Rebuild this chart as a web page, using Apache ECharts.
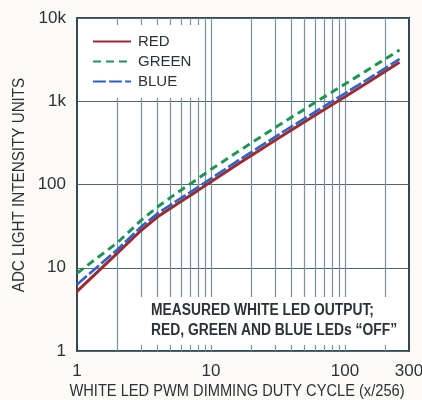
<!DOCTYPE html>
<html>
<head>
<meta charset="utf-8">
<script src="https://cdn.jsdelivr.net/npm/echarts@6/dist/echarts.min.js"></script>
<style>
  html, body { margin: 0; padding: 0; background: #fcfaf7; }
  #chart { width: 422px; height: 400px; }
</style>
</head>
<body>
<div id="chart"></div>
<script>
// PWM duty cycle steps (x/256)
const dutyCycle = [1, 2, 3, 4, 5, 6, 8, 10, 16, 20, 32, 50, 64, 100, 128, 200, 255];
// Measured ADC light intensity per colour channel
const redValues   = [5.2, 15, 28, 41, 52, 63, 85, 108, 178, 223, 362, 568, 728, 1135, 1455, 2290, 2950];
const greenValues = [8.6, 20, 37, 54, 70, 86, 118, 152, 250, 315, 515, 805, 1035, 1610, 2060, 3230, 4130];
const blueValues  = [6.3, 16.5, 31, 45, 57, 69, 93, 118, 195, 245, 398, 622, 797, 1245, 1595, 2505, 3220];
// Axis ticks
const xTickValues = [1, 10, 100, 300];
const xGridValues = [2, 3, 4, 5, 6, 7, 8, 9, 10, 20, 30, 40, 50, 60, 70, 80, 90, 100, 200];
const yTickLabels = { 1: '1', 10: '10', 100: '100', 1000: '1k', 10000: '10k' };

const FONT = '"Liberation Sans", Arial, sans-serif';
const TEXT = '#2b3236';

const pairs = (vals) => dutyCycle.map((x, i) => [x, vals[i]]);

const chart = echarts.init(document.getElementById('chart'), null, { renderer: 'canvas' });

chart.setOption({
  backgroundColor: '#fcfaf7',
  animation: false,
  textStyle: { fontFamily: FONT },
  grid: {
    left: 77, right: 13, top: 18, bottom: 49,
    outerBoundsMode: 'none',
    containLabel: false,
    show: true, backgroundColor: '#ffffff',
    borderColor: '#34484f', borderWidth: 2
  },
  legend: {
    data: ['RED', 'GREEN', 'BLUE'],
    orient: 'vertical',
    left: 80, top: 25,
    z: 10,
    backgroundColor: '#ffffff',
    padding: [9, 12, 9, 12],
    itemWidth: 38, itemHeight: 14, itemGap: 5,
    // line-only icons: hide the symbol dot drawn on top of the line sample
    itemStyle: { color: 'rgba(0,0,0,0)', borderWidth: 0, opacity: 0 },
    textStyle: { fontFamily: FONT, fontSize: 15, color: TEXT, padding: [0, 0, 0, 2] }
  },
  xAxis: {
    type: 'log', logBase: 10, min: 1, max: 300,
    axisLine: { show: false },
    axisTick: { show: false },
    splitLine: { show: false },
    axisLabel: {
      customValues: xTickValues,
      fontFamily: FONT, fontSize: 17, color: TEXT, margin: 12,
      formatter: (v) => String(Math.round(v))
    }
  },
  yAxis: {
    type: 'log', logBase: 10, min: 1, max: 10000,
    axisLine: { show: false },
    axisTick: { show: false },
    splitLine: { show: true, lineStyle: { color: '#4d6670', width: 1 } },
    axisLabel: {
      fontFamily: FONT, fontSize: 17, color: TEXT, margin: 11,
      formatter: (v) => yTickLabels[Math.round(v)] || ''
    }
  },
  series: [
    {
      name: 'grid-lines', type: 'line', data: [], z: 1, silent: true,
      markLine: {
        z: 1, silent: true, symbol: 'none', animation: false,
        label: { show: false },
        lineStyle: { color: '#7891a0', width: 1.2, type: 'solid' },
        data: xGridValues.map((v) => ({ xAxis: v }))
      }
    },
    {
      name: 'RED', type: 'line', data: pairs(redValues), z: 3,
      symbol: 'none', color: '#9a2b2e',
      lineStyle: { width: 3, color: '#9a2b2e' }
    },
    {
      name: 'BLUE', type: 'line', data: pairs(blueValues), z: 4,
      symbol: 'none', color: '#2e62c8',
      lineStyle: { width: 2.6, color: '#2e62c8', type: [13, 3] }
    },
    {
      name: 'GREEN', type: 'line', data: pairs(greenValues), z: 5,
      symbol: 'none', color: '#1f9457',
      lineStyle: { width: 3, color: '#1f9457', type: [8, 5] }
    }
  ],
  graphic: [
    // axis titles, drawn slightly condensed
    {
      type: 'text', z: 11, silent: true,
      x: 237, y: 392,
      scaleX: 0.915,
      style: {
        text: 'WHITE LED PWM DIMMING DUTY CYCLE (x/256)',
        font: '16px ' + FONT, fill: TEXT,
        align: 'center', verticalAlign: 'middle'
      }
    },
    {
      type: 'text', z: 11, silent: true,
      x: 20, y: 185,
      rotation: Math.PI / 2,
      scaleX: 0.95,
      style: {
        text: 'ADC LIGHT INTENSITY UNITS',
        font: '16px ' + FONT, fill: TEXT,
        align: 'center', verticalAlign: 'middle'
      }
    },
    // measurement note box
    {
      type: 'rect', z: 10, silent: true,
      shape: { x: 139, y: 297, width: 268, height: 48 },
      style: { fill: '#ffffff' }
    },
    {
      type: 'text', z: 11, silent: true,
      x: 151, y: 301,
      scaleX: 0.865, originX: 0,
      style: {
        text: 'MEASURED WHITE LED OUTPUT;\nRED, GREEN AND BLUE LEDs \u201COFF\u201D',
        font: 'bold 16px ' + FONT,
        fill: TEXT,
        lineHeight: 20
      }
    }
  ]
});
</script>
</body>
</html>
